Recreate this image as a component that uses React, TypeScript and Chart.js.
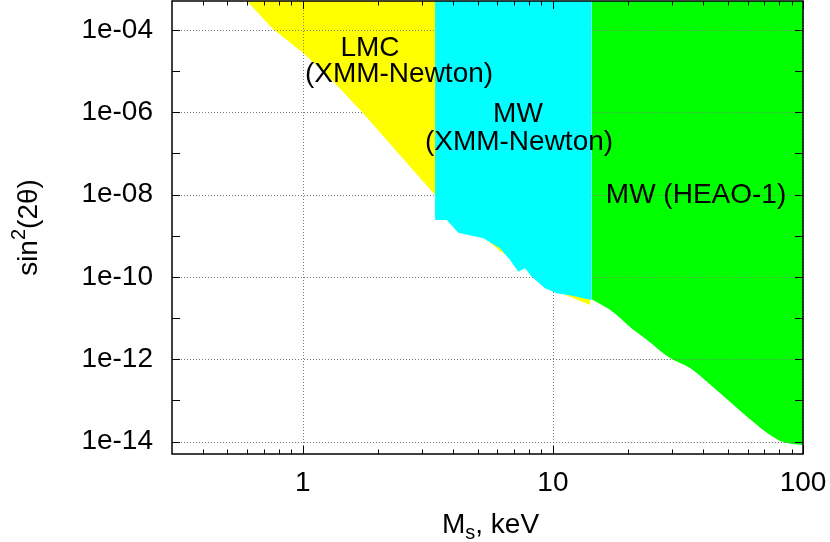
import { useEffect, useRef } from 'react';
import { Chart, registerables } from 'chart.js';

Chart.register(...registerables);

const FONT = '"Liberation Sans", Arial, Helvetica, sans-serif';
const GRID = '#7a7a7a';

// Axis ranges and ticks
const xMin = 0.3;
const xMax = 100;
const yMin = 5e-15;
const yMax = 5e-4;
const xMajorTicks = [1, 10, 100];
const xMinorTicks = [0.4, 0.5, 0.6, 0.7, 0.8, 0.9, 2, 3, 4, 5, 6, 7, 8, 9, 20, 30, 40, 50, 60, 70, 80, 90];
const yTickExps = [-4, -5, -6, -7, -8, -9, -10, -11, -12, -13, -14];
const yLabelExps = [-4, -6, -8, -10, -12, -14];

// LMC (XMM-Newton) excluded region: lower boundary
const lmcMass = [0.598, 0.76, 0.993, 1.285, 1.725, 3.379, 5.11, 6.146, 6.615, 8.1, 10.2, 11.5, 14.07];
const lmcMix = [5.0e-4, 1.04e-4, 2.89e-5, 6.75e-6, 1.01e-6, 9.73e-9, 1.1e-9, 4.25e-10, 3.21e-10, 1.31e-10, 5.36e-11, 3.43e-11, 2.07e-11];

// MW (XMM-Newton) excluded region: lower boundary
const mwXmmMass = [3.379, 3.763, 4.186, 5.27, 6.146, 6.74, 7.275, 7.737, 8.23, 9.3, 10.36, 11.53, 14.3];
const mwXmmMix = [2.4e-9, 2.4e-9, 1.18e-9, 8.64e-10, 4.94e-10, 2.57e-10, 1.335e-10, 1.61e-10, 1.01e-10, 5.28e-11, 3.99e-11, 3.63e-11, 2.74e-11];

// MW (HEAO-1) excluded region: lower boundary
const heaoMass = [14.3, 17.39, 20.34, 23.79, 29.4, 35.34, 43.68, 54.48, 65.5, 73.82, 83.22, 91.23, 100];
const heaoMix = [2.85e-11, 1.4e-11, 6.06e-12, 2.93e-12, 1.07e-12, 6.12e-13, 2.12e-13, 6.54e-14, 2.53e-14, 1.45e-14, 9.77e-15, 8.74e-15, 8.26e-15];

// Region labels
const noteText = ['LMC', '(XMM-Newton)', 'MW', '(XMM-Newton)', 'MW (HEAO-1)'];
const noteMass = [1.857, 2.425, 7.25, 7.32, 37.35];
const noteMix = [2.31e-5, 5.4e-6, 5.77e-7, 1.2e-7, 6.22e-9];

const toPoints = (xs: number[], ys: number[]) => xs.map((x, i) => ({ x, y: ys[i] }));

const region = (label: string, xs: number[], ys: number[], color: string, order: number, smooth = false) => ({
  label,
  data: toPoints(xs, ys),
  backgroundColor: color,
  borderColor: 'rgba(0,0,0,0)',
  borderWidth: 0,
  pointRadius: 0,
  fill: 'end',
  order,
  cubicInterpolationMode: smooth ? 'monotone' : 'default',
});

const decor = {
  id: 'decor',
  beforeDatasetsDraw(chart: any) {
    const { ctx, chartArea: a, scales } = chart;
    const x = scales.x, y = scales.y;
    ctx.save();
    ctx.strokeStyle = GRID;
    ctx.lineWidth = 1;
    ctx.setLineDash([1, 2]);
    for (const v of xMajorTicks) {
      const px = Math.round(x.getPixelForValue(v)) + 0.5;
      ctx.beginPath(); ctx.moveTo(px, a.top); ctx.lineTo(px, a.bottom); ctx.stroke();
    }
    for (const e of yLabelExps) {
      const py = Math.round(y.getPixelForValue(Math.pow(10, e))) + 0.5;
      ctx.beginPath(); ctx.moveTo(a.left, py); ctx.lineTo(a.right, py); ctx.stroke();
    }
    ctx.restore();
  },
  afterDatasetsDraw(chart: any) {
    const { ctx, chartArea: a, scales } = chart;
    const x = scales.x, y = scales.y;
    ctx.save();
    // grid segments visible on top of filled regions
    ctx.strokeStyle = GRID;
    ctx.lineWidth = 1;
    ctx.setLineDash([1, 2]);
    const px1 = Math.round(x.getPixelForValue(1)) + 0.5;
    ctx.beginPath(); ctx.moveTo(px1, a.top); ctx.lineTo(px1, a.bottom); ctx.stroke();
    const py4 = Math.round(y.getPixelForValue(1e-4)) + 0.5;
    ctx.beginPath(); ctx.moveTo(a.left, py4); ctx.lineTo(x.getPixelForValue(mwXmmMass[0]), py4); ctx.stroke();
    const gx = x.getPixelForValue(heaoMass[0]);
    for (const e of yLabelExps) {
      const py = Math.round(y.getPixelForValue(Math.pow(10, e))) + 0.5;
      ctx.beginPath(); ctx.moveTo(gx, py); ctx.lineTo(a.right, py); ctx.stroke();
    }
    ctx.setLineDash([]);

    // region labels
    ctx.fillStyle = '#000';
    ctx.font = `28px ${FONT}`;
    ctx.textAlign = 'center';
    ctx.textBaseline = 'alphabetic';
    noteText.forEach((t, i) => {
      ctx.fillText(t, x.getPixelForValue(noteMass[i]), y.getPixelForValue(noteMix[i]));
    });

    // inward tick marks on all four sides
    ctx.strokeStyle = '#000';
    ctx.lineWidth = 1;
    const tick = (x0: number, y0: number, x1: number, y1: number) => {
      ctx.beginPath(); ctx.moveTo(x0, y0); ctx.lineTo(x1, y1); ctx.stroke();
    };
    for (const v of xMajorTicks) {
      const px = Math.round(x.getPixelForValue(v)) + 0.5;
      tick(px, a.bottom, px, a.bottom - 8);
      tick(px, a.top, px, a.top + 8);
    }
    for (const v of xMinorTicks) {
      const px = Math.round(x.getPixelForValue(v)) + 0.5;
      tick(px, a.bottom, px, a.bottom - 4.5);
      tick(px, a.top, px, a.top + 4.5);
    }
    for (const e of yTickExps) {
      const py = Math.round(y.getPixelForValue(Math.pow(10, e))) + 0.5;
      tick(a.left, py, a.left + 8, py);
      tick(a.right, py, a.right - 8, py);
    }
    // frame
    ctx.lineWidth = 1.5;
    ctx.strokeRect(a.left, a.top, a.right - a.left, a.bottom - a.top);

    // x title: M_s, keV
    ctx.textAlign = 'left';
    ctx.font = `28px ${FONT}`;
    const wM = ctx.measureText('M').width;
    const wRest = ctx.measureText(', keV').width;
    ctx.font = `20px ${FONT}`;
    const wS = ctx.measureText('s').width;
    const cx = (a.left + a.right) / 2 + 3;
    const x0 = cx - (wM + wS + wRest) / 2;
    const base = 533;
    ctx.font = `28px ${FONT}`;
    ctx.fillText('M', x0, base);
    ctx.fillText(', keV', x0 + wM + wS, base);
    ctx.font = `20px ${FONT}`;
    ctx.fillText('s', x0 + wM, base + 6);

    // y title: sin^2(2θ)
    ctx.save();
    ctx.translate(27, (a.top + a.bottom) / 2);
    ctx.rotate(-Math.PI / 2);
    ctx.font = `28px ${FONT}`;
    const wSin = ctx.measureText('sin').width;
    const wArg = ctx.measureText('(2θ)').width;
    ctx.font = `20px ${FONT}`;
    const w2 = ctx.measureText('2').width;
    const y0 = -(wSin + w2 + wArg) / 2;
    ctx.font = `28px ${FONT}`;
    ctx.fillText('sin', y0, 10);
    ctx.fillText('(2θ)', y0 + wSin + w2, 10);
    ctx.font = `20px ${FONT}`;
    ctx.fillText('2', y0 + wSin, -2);
    ctx.restore();

    ctx.restore();
  },
};

export default function App() {
  const ref = useRef<HTMLCanvasElement>(null);
  useEffect(() => {
    const chart = new Chart(ref.current as HTMLCanvasElement, {
      type: 'line',
      data: {
        datasets: [
          region('LMC (XMM-Newton)', lmcMass, lmcMix, '#ffff00', 3),
          region('MW (XMM-Newton)', mwXmmMass, mwXmmMix, '#00ffff', 2),
          region('MW (HEAO-1)', heaoMass, heaoMix, '#00ff00', 1, true),
        ] as any,
      },
      options: {
        animation: false,
        responsive: false,
        devicePixelRatio: 1,
        layout: { padding: { top: 1, right: 27, left: 0, bottom: 0 } },
        plugins: { legend: { display: false }, tooltip: { enabled: false } },
        scales: {
          x: {
            type: 'logarithmic',
            min: xMin,
            max: xMax,
            afterBuildTicks: (s: any) => { s.ticks = xMajorTicks.map((v) => ({ value: v })); },
            afterFit: (s: any) => { s.height = 88; s.paddingLeft = 0; s.paddingRight = 0; },
            ticks: {
              callback: (v: any) => String(v),
              font: { family: FONT, size: 28 },
              color: '#000',
              padding: 12,
              maxRotation: 0,
              autoSkip: false,
            },
            grid: { display: false, drawTicks: false },
            border: { display: false },
          },
          y: {
            type: 'logarithmic',
            min: yMin,
            max: yMax,
            afterBuildTicks: (s: any) => { s.ticks = yTickExps.map((e) => ({ value: Math.pow(10, e) })); },
            afterFit: (s: any) => { s.width = 172; s.paddingTop = 0; s.paddingBottom = 0; },
            ticks: {
              callback: (v: any) => {
                const e = Math.round(Math.log10(v));
                return yLabelExps.includes(e) ? `1e-${String(-e).padStart(2, '0')}` : '';
              },
              font: { family: FONT, size: 28 },
              color: '#000',
              padding: 19,
              autoSkip: false,
            },
            grid: { display: false, drawTicks: false },
            border: { display: false },
          },
        },
      },
      plugins: [decor],
    } as any);
    return () => chart.destroy();
  }, []);
  return (
    <div style={{ position: 'absolute', left: 0, top: 0, width: 830, height: 542, background: '#fff' }}>
      <canvas ref={ref} width={830} height={542} style={{ display: 'block' }} />
    </div>
  );
}
